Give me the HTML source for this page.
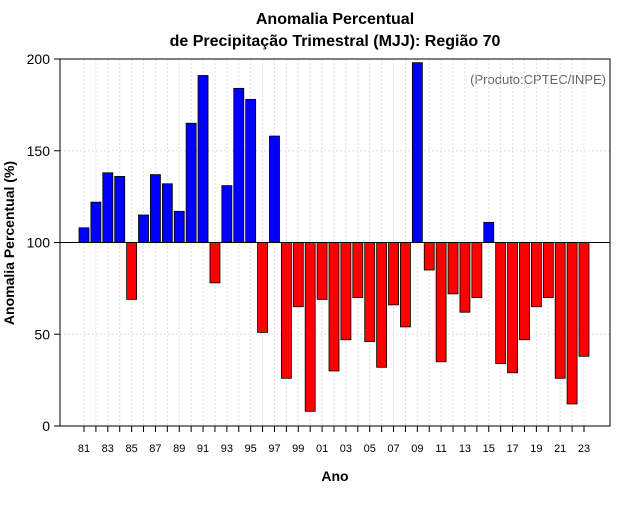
<!DOCTYPE html>
<html><head><meta charset="utf-8"><style>
body{margin:0;background:#fff;font-family:"Liberation Sans",sans-serif}
</style></head><body>
<svg id="c" width="640" height="500" xmlns="http://www.w3.org/2000/svg">
<text x="335" y="24" text-anchor="middle" font-size="16" font-weight="bold">Anomalia Percentual</text>
<text x="335" y="46" text-anchor="middle" font-size="16" font-weight="bold">de Precipitação Trimestral (MJJ): Região 70</text>
<text x="606" y="84" text-anchor="end" font-size="13" fill="#666">(Produto:CPTEC/INPE)</text>
<text x="335" y="481" text-anchor="middle" font-size="14" font-weight="bold">Ano</text>
<text transform="translate(14,243) rotate(-90)" text-anchor="middle" font-size="14" font-weight="bold">Anomalia Percentual (%)</text>
<g id="grid"></g><g id="bars"></g><g id="axes"></g>
</svg>
<script>
const years=["81","82","83","84","85","86","87","88","89","90","91","92","93","94","95","96","97","98","99","00","01","02","03","04","05","06","07","08","09","10","11","12","13","14","15","16","17","18","19","20","21","22","23"];
const values=[108,122,138,136,69,115,137,132,117,165,191,78,131,184,178,51,158,26,65,8,69,30,47,70,46,32,66,54,198,85,35,72,62,70,111,34,29,47,65,70,26,12,38];
const yTicks=[0,50,100,150,200];
const NS="http://www.w3.org/2000/svg";
const L=60,R=610,T=59,B=426;
const y=v=>B-(v/200)*(B-T);
const x=i=>84+i*(584-84)/(years.length-1);
function mk(tag,attrs,parent){const e=document.createElementNS(NS,tag);for(const k in attrs)e.setAttribute(k,attrs[k]);document.getElementById(parent).appendChild(e);return e;}
years.forEach((yr,i)=>{
 const g=mk('line',{x1:x(i),x2:x(i),y1:T,y2:B,stroke:'#ddd','stroke-dasharray':'2,2'},'grid');
 
 
 const t=mk('line',{x1:x(i),x2:x(i),y1:B,y2:B+6,stroke:'#000'},'axes');
 
 
 if(i%2===0){const l=mk('text',{x:x(i),y:452,'text-anchor':'middle','font-size':11},'axes');l.textContent=yr;
 
 }
 const v=values[i];const top=Math.min(y(v),y(100)),h=Math.abs(y(v)-y(100));
 const b=mk('rect',{x:x(i)-5,y:top,width:10,height:h,fill:v>=100?'#0000ff':'#ff0000',stroke:'#000','stroke-width':0.8},'bars');
 
 
});
yTicks.forEach(v=>{
 const g=mk('line',{x1:L,x2:R,y1:y(v),y2:y(v),stroke:'#ddd','stroke-dasharray':'2,2'},'grid');
 
 
 const t=mk('line',{x1:L-6,x2:L,y1:y(v),y2:y(v),stroke:'#000'},'axes');
 
 
 const l=mk('text',{x:L-10,y:y(v)+5,'text-anchor':'end','font-size':14},'axes');l.textContent=v;
 
 
});
const base=mk('line',{x1:L,x2:R,y1:y(100),y2:y(100),stroke:'#000'},'axes');


const fr=mk('rect',{x:L,y:T,width:R-L,height:B-T,fill:'none',stroke:'#000'},'axes');


</script>
</body></html>
